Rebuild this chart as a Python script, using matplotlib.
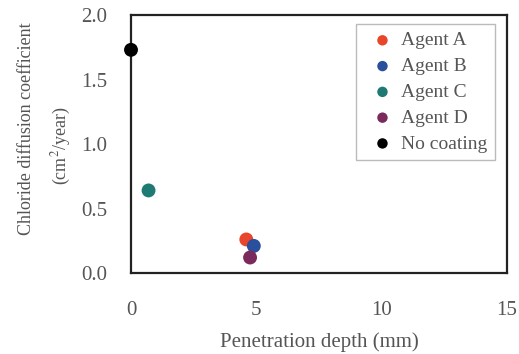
import matplotlib
matplotlib.use("Agg")
import matplotlib.pyplot as plt

plt.rcParams['font.family'] = ['Liberation Serif', 'DejaVu Serif']
plt.rcParams['mathtext.fontset'] = 'stix'

# Penetration depth (mm) vs. chloride diffusion coefficient (cm^2/year)
labels = ["Agent A", "Agent B", "Agent C", "Agent D", "No coating"]
depth = [4.6, 4.9, 0.7, 4.75, 0.0]
diffusion = [0.26, 0.21, 0.64, 0.12, 1.73]
colors = ["#e8452a", "#2a4f9c", "#1e7a72", "#7b2a5c", "#000000"]

text_color = "#555555"
W, H = 519, 354

fig = plt.figure(figsize=(W / 100, H / 100), dpi=100)
ax = fig.add_axes([131 / W, 1 - 273 / H, 376 / W, 258 / H])

for lab, x, y, c in zip(labels, depth, diffusion, colors):
    ax.scatter(x, y, s=100, color=c, label=lab, zorder=3, clip_on=False,
               edgecolors='none')

ax.set_xlim(0, 15)
ax.set_ylim(0, 2.0)
ax.set_xticks([0, 5, 10, 15])
ax.set_yticks([0.0, 0.5, 1.0, 1.5, 2.0])
ax.set_yticklabels(["0.0", "0.5", "1.0", "1.5", "2.0"])
ax.tick_params(length=0, labelsize=15, labelcolor=text_color)
ax.tick_params(axis='x', pad=20)
ax.tick_params(axis='y', pad=17)

for sp in ax.spines.values():
    sp.set_linewidth(1.6)
    sp.set_color("#222222")

ax.set_xlabel("Penetration depth (mm)", fontsize=15, color=text_color, labelpad=9)

# two-line y label, each line placed on its own
fig.text(27 / W, 1 - 129 / H, "Chloride diffusion coefficient", rotation=90,
         ha='center', va='center', fontsize=13, color=text_color)
fig.text(61 / W, 1 - 146 / H, "(cm$^2$/year)", rotation=90,
         ha='center', va='center', fontsize=13, color=text_color)

leg = ax.legend(loc="upper right", bbox_to_anchor=(0.968, 0.965), fontsize=14,
                frameon=True, fancybox=False, handletextpad=0.0,
                handlelength=1.9, borderpad=0.4, labelspacing=0.42,
                borderaxespad=0, markerscale=0.75)
leg.get_frame().set_edgecolor("#aaaaaa")
leg.get_frame().set_linewidth(1.0)
for t in leg.get_texts():
    t.set_color(text_color)

fig.savefig("out.png", dpi=100)
